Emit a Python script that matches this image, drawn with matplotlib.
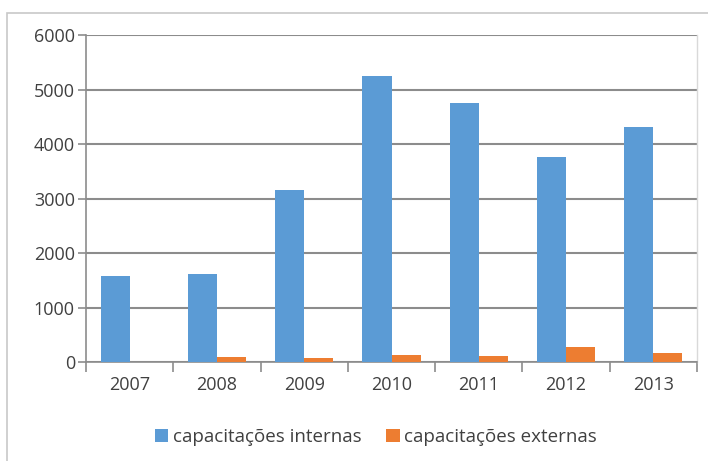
import matplotlib.pyplot as plt
from matplotlib.patches import Rectangle
import numpy as np

plt.rcParams['font.family'] = ['Open Sans', 'DejaVu Sans']

anos = ["2007", "2008", "2009", "2010", "2011", "2012", "2013"]
internas = [1580, 1615, 3155, 5245, 4750, 3760, 4310]
externas = [0, 100, 80, 120, 115, 275, 160]

azul = "#5B9BD5"
laranja = "#ED7D31"
cinza = "#8C8C8C"

fig = plt.figure(figsize=(7.08, 4.61), dpi=100)
W, H = 708, 461
ax = fig.add_axes([86 / W, 1 - 362 / H, (697 - 86) / W, (362 - 35) / H])

# moldura externa do gráfico
fig.patches.append(Rectangle((7 / W, -0.01), 1.0, 1 - 13 / H + 0.01,
                             transform=fig.transFigure, fill=False,
                             edgecolor="#C8C8C8", linewidth=1.2))

x = np.arange(len(anos))
w = 1 / 3
ax.bar(x - w / 2, internas, w, color=azul, label="capacitações internas", zorder=3)
ax.bar(x + w / 2, externas, w, color=laranja, label="capacitações externas", zorder=3)

ax.set_xlim(-0.5, len(anos) - 0.5)
ax.set_ylim(0, 6000)
ax.set_yticks(range(0, 6001, 1000))
ax.yaxis.grid(True, color=cinza, linewidth=1.5, zorder=1)
ax.set_axisbelow(True)

# rótulos dos anos no centro, marcas entre as categorias
ax.set_xticks(x)
ax.set_xticklabels(anos)
ax.tick_params(axis="x", length=0, pad=10, labelsize=13, labelcolor="#404040")
ax.set_xticks(np.arange(-0.5, len(anos)), minor=True)
ax.tick_params(axis="x", which="minor", length=7, color=cinza, width=1.2)
ax.tick_params(axis="y", length=6, color=cinza, width=1.2, labelsize=13,
               labelcolor="#404040", pad=2)

ax.spines["top"].set_visible(False)
ax.spines["right"].set_color("#D9D9D9")
ax.spines["right"].set_linewidth(1.0)
for s in ["left", "bottom"]:
    ax.spines[s].set_color(cinza)
    ax.spines[s].set_linewidth(1.2)

fig.legend(loc="center", bbox_to_anchor=(0.531, 1 - 437 / H), ncol=2,
           frameon=False, fontsize=13.5, handlelength=0.72, handleheight=0.72,
           handletextpad=0.25, columnspacing=1.3, labelcolor="#404040")

fig.savefig("out.png", dpi=100)
